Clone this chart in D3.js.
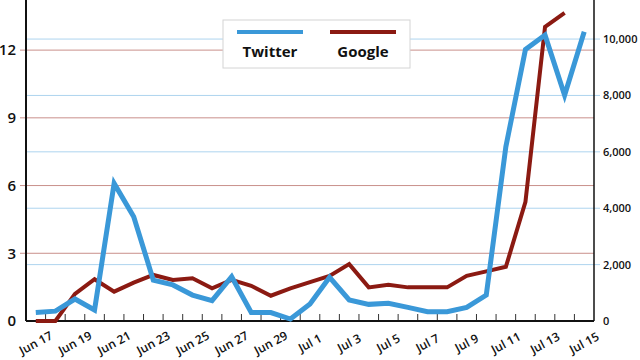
<!DOCTYPE html>
<html>
<head>
<meta charset="utf-8">
<script src="https://cdn.jsdelivr.net/npm/d3@7"></script>
<style>
  body { margin: 0; background: #fff; }
  svg text { font-family: "Open Sans", sans-serif; fill: #111; }
</style>
</head>
<body>
<div id="chart"></div>
<script>
var dates = ["Jun 17","Jun 18","Jun 19","Jun 20","Jun 21","Jun 22","Jun 23","Jun 24","Jun 25","Jun 26",
  "Jun 27","Jun 28","Jun 29","Jun 30","Jul 1","Jul 2","Jul 3","Jul 4","Jul 5","Jul 6","Jul 7","Jul 8",
  "Jul 9","Jul 10","Jul 11","Jul 12","Jul 13","Jul 14","Jul 15"];
var twitter = [300,350,780,390,4880,3700,1450,1280,920,720,1570,300,300,70,600,1550,745,590,630,485,
  330,330,485,920,6180,9630,10140,8010,10260];
var google = [0,0,1.2,1.85,1.3,1.7,2.04,1.82,1.89,1.45,1.82,1.56,1.12,1.45,1.72,2.0,2.52,1.49,1.6,1.49,
  1.49,1.49,2.0,2.2,2.4,5.28,13.03,13.65];
var leftTicks = [0,3,6,9,12];
var rightTicks = [0,2000,4000,6000,8000,10000];
var seriesNames = ["Twitter","Google"];

var width = 640,
  height = 360,
  svg = d3
    .select("#chart")
    .append("svg")
    .attr("width", width)
    .attr("height", height);

var margin = { top: 0, right: 46, bottom: 39, left: 26 },
  iwidth = width - margin.left - margin.right,
  iheight = height - margin.top - margin.bottom;

var blue = "#3a98d8", red = "#8b1a12";

var g = svg.append("g")
  .attr("transform", `translate(${margin.left}, ${margin.top})`);

var x = d3.scaleBand().domain(dates).range([0, iwidth]).padding(0);
var yL = d3.scaleLinear().domain([0, 14.22]).range([iheight, 0]);
var yR = d3.scaleLinear().domain([0, 11385]).range([iheight, 0]);
var cx = function(i){ return x(dates[i]) + x.bandwidth() / 2; };

// grid lines (also act as the outside ticks)
g.selectAll(".gridR")
  .data(rightTicks.filter(function(d){ return d > 0; }))
  .enter().append("line")
  .attr("x1", 0).attr("x2", iwidth + 6)
  .attr("y1", function(d){ return yR(d); })
  .attr("y2", function(d){ return yR(d); })
  .attr("stroke", "#aed4ef").attr("stroke-width", 1);

g.selectAll(".gridL")
  .data(leftTicks.filter(function(d){ return d > 0; }))
  .enter().append("line")
  .attr("x1", -6).attr("x2", iwidth)
  .attr("y1", function(d){ return yL(d); })
  .attr("y2", function(d){ return yL(d); })
  .attr("stroke", "#c9908b").attr("stroke-width", 1);

// left axis
var axL = g.append("g")
  .call(d3.axisLeft(yL).tickValues(leftTicks).tickSize(0).tickPadding(10));
axL.select(".domain").remove();
axL.selectAll("text")
  .style("font-size", "15px").style("font-weight", "600").attr("fill", "#111");

// right axis
var axR = g.append("g")
  .attr("transform", `translate(${iwidth},0)`)
  .call(d3.axisRight(yR).tickValues(rightTicks).tickSize(0).tickPadding(9).tickFormat(d3.format(",")));
axR.select(".domain").remove();
axR.selectAll("text")
  .style("font-size", "11px").style("font-weight", "600").attr("fill", "#111");

// bottom axis labels
var axB = g.append("g")
  .attr("transform", `translate(0,${iheight})`)
  .call(d3.axisBottom(x).tickValues(dates.filter(function(d, i){ return i % 2 === 0; })).tickSize(0));
axB.select(".domain").remove();
axB.selectAll("text")
  .attr("y", 0).attr("dy", "0.35em")
  .attr("transform", "translate(0,22) rotate(-28)")
  .style("font-size", "12px").style("font-weight", "600").attr("fill", "#111");

// inner ticks between days
g.selectAll(".xt")
  .data(dates.slice(1))
  .enter().append("line")
  .attr("x1", function(d){ return x(d); })
  .attr("x2", function(d){ return x(d); })
  .attr("y1", iheight).attr("y2", iheight - 7)
  .attr("stroke", "#333").attr("stroke-width", 1);

// frame lines
g.append("line").attr("x1", 0).attr("x2", 0).attr("y1", 0).attr("y2", iheight)
  .attr("stroke", "#111").attr("stroke-width", 2);
g.append("line").attr("x1", iwidth).attr("x2", iwidth).attr("y1", 0).attr("y2", iheight)
  .attr("stroke", "#111").attr("stroke-width", 1.5);
g.append("line").attr("x1", 0).attr("x2", iwidth).attr("y1", iheight).attr("y2", iheight)
  .attr("stroke", "#111").attr("stroke-width", 2);

// lines
var lineG = d3.line()
  .x(function(d, i){ return cx(i); })
  .y(function(d){ return yL(d); });
var lineT = d3.line()
  .x(function(d, i){ return cx(i); })
  .y(function(d){ return yR(d); });

g.append("path").datum(google)
  .attr("d", lineG)
  .attr("fill", "none").attr("stroke", red).attr("stroke-width", 4);
g.append("path").datum(twitter)
  .attr("d", lineT)
  .attr("fill", "none").attr("stroke", blue).attr("stroke-width", 5);

// legend
var leg = svg.append("g").attr("transform", "translate(223,20)");
leg.append("rect")
  .attr("width", 187).attr("height", 48)
  .attr("fill", "#fff").attr("stroke", "#d4d4d4").attr("stroke-width", 1);
var legColors = [blue, red];
seriesNames.forEach(function(name, i){
  var lx = 14 + i * 93;
  leg.append("line")
    .attr("x1", lx).attr("x2", lx + 66).attr("y1", 12).attr("y2", 12)
    .attr("stroke", legColors[i]).attr("stroke-width", 4);
  leg.append("text")
    .attr("x", lx + 33).attr("y", 37)
    .attr("text-anchor", "middle")
    .style("font-size", "15px").style("font-weight", "700")
    .text(name);
});
</script>
</body>
</html>
